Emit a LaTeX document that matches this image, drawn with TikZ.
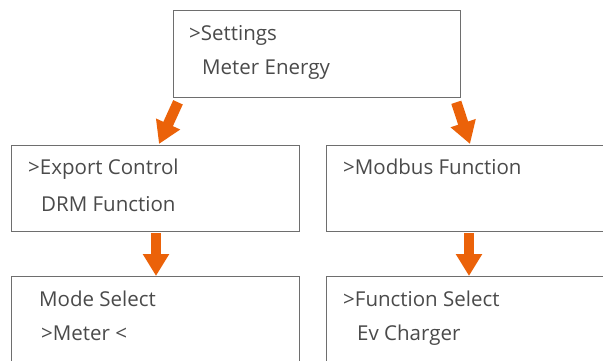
\documentclass[tikz,border=0pt]{standalone}
\usepackage{fontspec}
\setmainfont{Open Sans}
\usetikzlibrary{arrows.meta,positioning,calc}
\definecolor{menuorange}{HTML}{EB6209}
\definecolor{menuframe}{HTML}{6E6E6E}
\definecolor{menutext}{HTML}{4A4A4A}

\begin{document}
\begin{tikzpicture}[x=1pt,y=-1pt] % pixel-like units, y grows downwards
\tikzset{menu/.style={draw=menuframe, line width=1.3pt, inner sep=0pt, anchor=north west}} % one lcd screen
\tikzset{row/.style={anchor=base west, inner sep=0pt, text=menutext, font=\fontsize{20.5}{20.5}\selectfont}} % one line of a screen
\tikzset{go/.style={menuorange, line width=10.5pt, -{Triangle[width=25pt,length=22pt]}}} % the big orange arrows
\useasboundingbox (0,0) rectangle (603,361);
\clip (0,0) rectangle (603,361);
% screens
\node[menu, minimum width=287pt, minimum height=87pt] (settings) at (173,10) {};
\node[menu, minimum width=288pt, minimum height=86pt] (export) at (11,145) {};
\node[menu, minimum width=300pt, minimum height=86pt] (modbus) at (326,145) {};
\node[menu, minimum width=288pt, minimum height=100pt] (mode) at (11,276) {};
\node[menu, minimum width=300pt, minimum height=100pt] (funcsel) at (326,276) {};
% texts
\node[row] (settings-a) at ($(settings.north west)+(16,31)$) {>Settings};
\node[row] (settings-b) at ($(settings.north west)+(29,65)$) {Meter Energy};
\node[row] (export-a) at ($(export.north west)+(17,30)$) {>Export Control};
\node[row] (export-b) at ($(export.north west)+(30,66)$) {DRM Function};
\node[row] (modbus-a) at ($(modbus.north west)+(17,30)$) {>Modbus Function};
\node[row] (mode-a) at ($(mode.north west)+(28,30)$) {Mode Select};
\node[row] (mode-b) at ($(mode.north west)+(30,64)$) {>Meter <};
\node[row] (funcsel-a) at ($(funcsel.north west)+(17,30)$) {>Function Select};
\node[row] (funcsel-b) at ($(funcsel.north west)+(31,64)$) {Ev Charger};
% arrows
\draw[go] ($(settings.south west)+(5,4)$) -- ($(export.north west)+(148,-1)$);
\draw[go] ($(settings.south east)+(-5,4)$) -- ($(modbus.north west)+(144,-1)$);
\draw[go] ($(export.south west)+(145,1)$) -- ($(mode.north west)+(145,0)$);
\draw[go] ($(modbus.south west)+(143,1)$) -- ($(funcsel.north west)+(143,0)$);
\end{tikzpicture}
\end{document}
